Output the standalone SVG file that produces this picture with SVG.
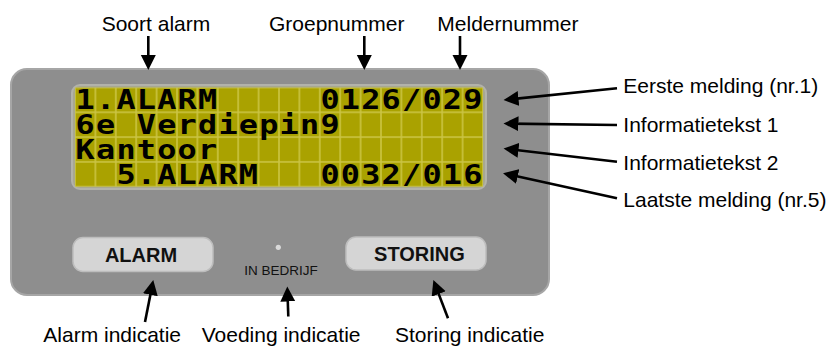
<svg xmlns="http://www.w3.org/2000/svg" width="832" height="347" viewBox="0 0 832 347">
<style>
.lbl{font-family:"Liberation Sans",Arial,sans-serif;font-size:21px;fill:#000}
.btn{font-family:"Liberation Sans",Arial,sans-serif;font-size:20px;font-weight:bold;fill:#111;text-anchor:middle}
.lcd{font-family:"DejaVu Sans Mono",monospace;font-size:27px;font-weight:bold;fill:#000;text-anchor:middle}
.arr{stroke:#000;stroke-width:2.6;fill:none;marker-end:url(#ah)}
</style>
<defs>
<marker id="ah" markerUnits="userSpaceOnUse" markerWidth="16" markerHeight="16" refX="9" refY="7.5" orient="auto">
<path d="M0,0 L15,7.5 L0,15 Z" fill="#000"/>
</marker>
<pattern id="cells" patternUnits="userSpaceOnUse" x="75" y="87.5" width="20.4" height="24.8">
<rect width="20.4" height="24.8" fill="#cbc443"/>
<rect x="0.8" y="0.8" width="18.8" height="23.2" fill="#aaa200"/>
</pattern>
</defs>
<rect width="832" height="347" fill="#fff"/>
<g id="panel">
<rect x="11" y="69" width="538" height="226" rx="16" fill="#8e8e8e" stroke="#a6a6a6" stroke-width="2"/>
</g>
<g id="lcd">
<rect x="72" y="85" width="414" height="104" rx="8" fill="#a8a890" stroke="#b2b2aa" stroke-width="2"/>
<rect x="75" y="87.5" width="408" height="99.2" fill="url(#cells)"/>
<g transform="scale(1.18 1)">
<text class="lcd" x="72.2 89.49 106.78 124.07 141.36 158.64 175.93" y="109.5">1.ALARM</text>
<text class="lcd" x="279.66 296.95 314.24 331.53 348.81 366.1 383.39 400.68" y="109.5">0126/029</text>
<text class="lcd" x="72.2 89.49 106.78 124.07 141.36 158.64 175.93 193.22 210.51 227.8 245.08 262.37 279.66" y="134.3">6e Verdiepin9</text>
<text class="lcd" x="72.2 89.49 106.78 124.07 141.36 158.64 175.93" y="159.1">Kantoor</text>
<text class="lcd" x="106.78 124.07 141.36 158.64 175.93 193.22 210.51" y="183.9">5.ALARM</text>
<text class="lcd" x="279.66 296.95 314.24 331.53 348.81 366.1 383.39 400.68" y="183.9">0032/016</text>
</g>
</g>
<g id="btn-alarm">
<rect x="73" y="237.5" width="140" height="34" rx="10" fill="#d5d5d5" stroke="#bdbdbd" stroke-width="1.5"/>
<text class="btn" x="141" y="261.5">ALARM</text>
</g>
<g id="led">
<circle cx="278.3" cy="247.3" r="2.6" fill="#d9d9d9"/>
<text x="281" y="275" font-family="Liberation Sans,Arial,sans-serif" font-size="13.5" fill="#111" text-anchor="middle">IN BEDRIJF</text>
</g>
<g id="btn-storing">
<rect x="346" y="237" width="140" height="33" rx="10" fill="#d5d5d5" stroke="#bdbdbd" stroke-width="1.5"/>
<text class="btn" x="419.5" y="261">STORING</text>
</g>
<g id="labels">
<text class="lbl" x="101.7" y="31">Soort alarm</text>
<text class="lbl" x="269" y="31">Groepnummer</text>
<text class="lbl" x="437.3" y="31">Meldernummer</text>
<text class="lbl" x="623.3" y="93.3">Eerste melding (nr.1)</text>
<text class="lbl" x="623.3" y="131.5">Informatietekst 1</text>
<text class="lbl" x="623.3" y="169.5">Informatietekst 2</text>
<text class="lbl" x="623.3" y="207">Laatste melding (nr.5)</text>
<text class="lbl" x="43.3" y="342">Alarm indicatie</text>
<text class="lbl" x="201.7" y="342">Voeding indicatie</text>
<text class="lbl" x="395" y="342">Storing indicatie</text>
</g>
<g id="connectors">
<line class="arr" x1="148.3" y1="36" x2="148.3" y2="64"/>
<line class="arr" x1="364.3" y1="36" x2="364.3" y2="64"/>
<line class="arr" x1="460" y1="36" x2="460" y2="64"/>
<line class="arr" x1="617" y1="88.3" x2="509.5" y2="99.4"/>
<line class="arr" x1="617" y1="125" x2="509.5" y2="123.6"/>
<line class="arr" x1="617" y1="161.7" x2="509.5" y2="149.2"/>
<line class="arr" x1="617" y1="198.3" x2="508.9" y2="174.6"/>
<line class="arr" x1="145" y1="322" x2="152.1" y2="285.9"/>
<line class="arr" x1="288.3" y1="316.5" x2="287.5" y2="292.5"/>
<line class="arr" x1="448" y1="318.3" x2="435.5" y2="285.6"/>
</g>
</svg>
